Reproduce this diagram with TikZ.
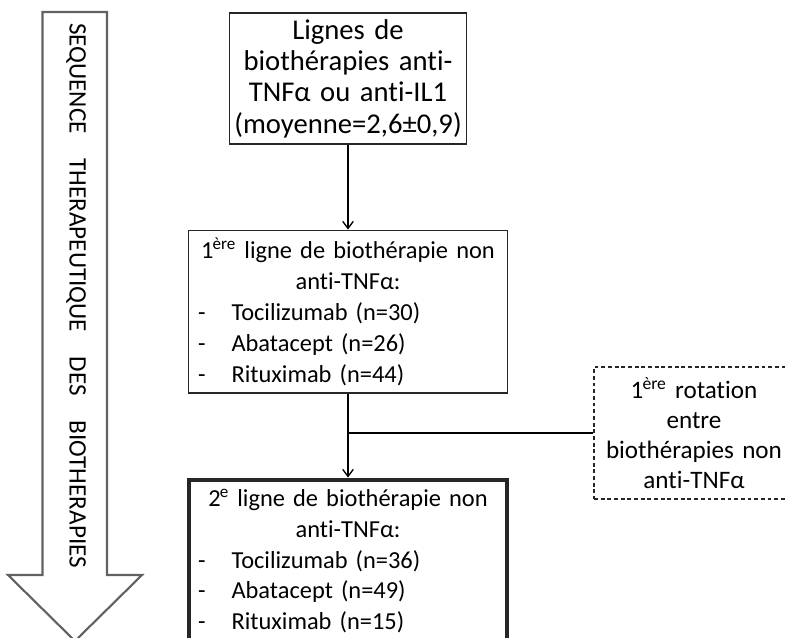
\documentclass[tikz,border=0pt]{standalone}
\usepackage{fontspec}
\setmainfont{Carlito}[Ligatures = NoCommon]
\usepackage{tikz}
\usetikzlibrary{arrows.meta}
\usetikzlibrary{positioning}

\tikzset{
    boite/.style = {draw = black!85, line width = 0.6pt, inner sep = 0pt,
        font = \fontsize{13.9pt}{17.6pt}\selectfont},
    fleche/.style = {draw = black, line width = 0.75pt,
        -{Straight Barb[length = 4pt, width = 6pt]}}
}
\newcommand{\tiret}{\makebox[0.67cm][l]{-}}
\newcommand{\expo}[1]{\textsuperscript{\kern-0.05em#1}}

\begin{document}
\begin{tikzpicture}[x = 0.02cm, y = -0.02cm]
        \useasboundingbox (0, 0) rectangle (785, 637);
        \clip (0, 0) rectangle (785, 637);

        \draw[color = black!62, line width = 1.2pt, fill = white]
            (42.5, 12) -- (107, 12) -- (107, 575) -- (142, 575) -- (75, 641)
            -- (8, 575) -- (42.5, 575) -- cycle;
        \node[rotate = -90, inner sep = 0pt,
            font = \fontsize{14.3pt}{17pt}\selectfont] (sequence) at (76, 295.5)
            {\makebox[10.9cm][s]{SEQUENCE THERAPEUTIQUE DES BIOTHERAPIES}};

        \node[boite, minimum width = 4.74cm, minimum height = 2.62cm,
            text width = 4.7cm, align = center,
            font = \fontsize{16.3pt}{17.8pt}\selectfont] (lignes) at (348, 78.5)
            {Lignes de\\biothérapies anti-\\TNFα ou anti-IL1\\(moyenne=2,6±0,9)};

        \node[boite, minimum width = 6.38cm, minimum height = 3.26cm,
            text width = 6.0cm, below = 1.7cm of lignes] (premiere)
            {\centering 1\expo{ère} ligne de biothérapie non\\anti-TNFα:\par
            \raggedright\tiret Tocilizumab (n=30)\\
            \tiret Abatacept (n=26)\\
            \tiret Rituximab (n=44)\par};

        \node[boite, line width = 2.3pt, minimum width = 6.38cm,
            minimum height = 3.26cm, text width = 6.0cm,
            below = 1.68cm of premiere] (deuxieme)
            {\centering 2\expo{e} ligne de biothérapie non\\anti-TNFα:\par
            \raggedright\tiret Tocilizumab (n=36)\\
            \tiret Abatacept (n=49)\\
            \tiret Rituximab (n=15)\par};

        \node[boite, dash pattern = on 2.2pt off 1.6pt, minimum width = 4cm,
            minimum height = 2.64cm, text width = 3.8cm, align = center,
            font = \fontsize{14.3pt}{17pt}\selectfont] (rotation) at (694, 433)
            {1\expo{ère} rotation\\entre\\biothérapies non\\anti-TNFα};

        \draw[fleche] (lignes) -- (premiere);
        \draw[fleche] (premiere) -- (deuxieme);
        \draw[line width = 0.75pt] (rotation.west) -- (rotation.west -| premiere.south);
    \end{tikzpicture}
\end{document}
